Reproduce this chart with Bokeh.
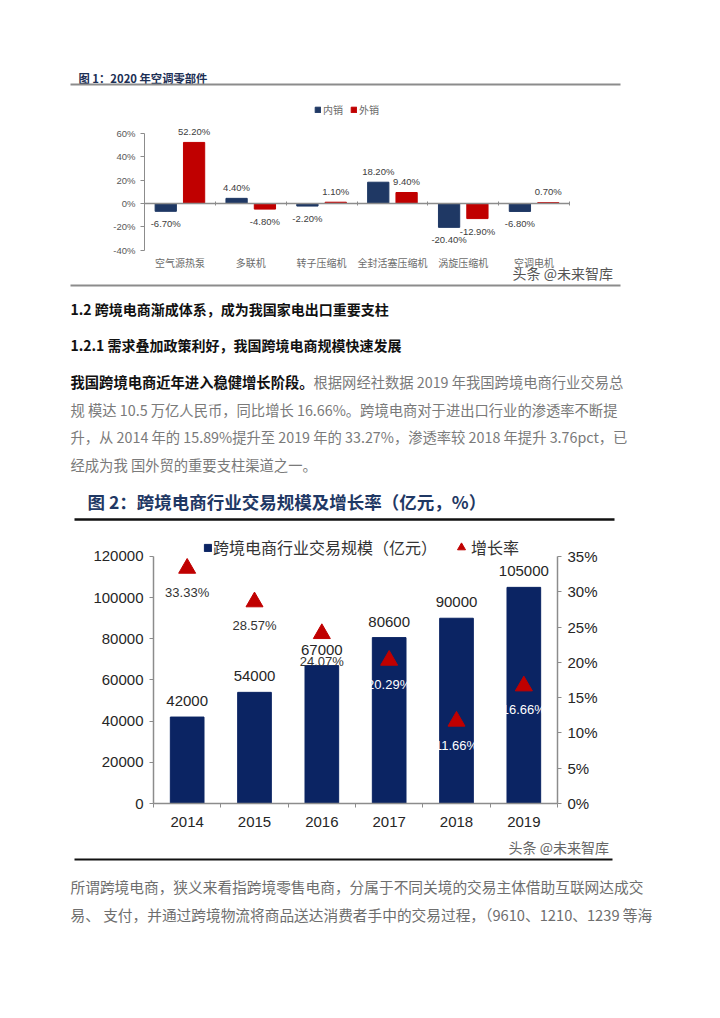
from bokeh.plotting import figure
from bokeh.layouts import column
from bokeh.models import (Range1d, FixedTicker, CustomJSTickFormatter, Legend,
                          LegendItem, LinearAxis, NumeralTickFormatter)
from bokeh.core.properties import value
from bokeh.embed import file_html
from bokeh.resources import INLINE
import numpy as np

# ---------------- data ----------------
c1_title = "图 1：2020 年空调零部件"
c1_categories = ["空气源热泵", "多联机", "转子压缩机", "全封活塞压缩机", "涡旋压缩机", "空调电机"]
c1_domestic = [-6.7, 4.4, -2.2, 18.2, -20.4, -6.8]
c1_export = [52.2, -4.8, 1.1, 9.4, -12.9, 0.7]
c1_series = ["内销", "外销"]
c1_yticks = [-40, -20, 0, 20, 40, 60]

c2_title = "图 2：跨境电商行业交易规模及增长率（亿元，%）"
c2_years = ["2014", "2015", "2016", "2017", "2018", "2019"]
c2_scale = [42000, 54000, 67000, 80600, 90000, 105000]
c2_growth = [33.33, 28.57, 24.07, 20.29, 11.66, 16.66]
c2_series = ["跨境电商行业交易规模（亿元）", "增长率"]
c2_left_ticks = [0, 20000, 40000, 60000, 80000, 100000, 120000]
c2_right_ticks = [0, 5, 10, 15, 20, 25, 30, 35]

watermark = "头条 @未来智库"
heading_1 = "1.2 跨境电商渐成体系，成为我国家电出口重要支柱"
heading_2 = "1.2.1 需求叠加政策利好，我国跨境电商规模快速发展"
para_lead = "我国跨境电商近年进入稳健增长阶段。"
para_lines = ["根据网经社数据 2019 年我国跨境电商行业交易总",
              "规 模达 10.5 万亿人民币，同比增长 16.66%。跨境电商对于进出口行业的渗透率不断提",
              "升，从 2014 年的 15.89%提升至 2019 年的 33.27%，渗透率较 2018 年提升 3.76pct，已",
              "经成为我 国外贸的重要支柱渠道之一。"]
tail_lines = ["所谓跨境电商，狭义来看指跨境零售电商，分属于不同关境的交易主体借助互联网达成交",
              "易、 支付，并通过跨境物流将商品送达消费者手中的交易过程，（9610、1210、1239 等海"]

# ---------------- styles / layout ----------------
W = 704
CJK = value("Noto Sans CJK SC")
SANS = value("Liberation Sans")
NAVY1 = "#1f3864"
NAVY2 = "#0b2463"
RED = "#c00000"
GREY = "#8c8c8c"


def unalign(p):
    if "frame_align" in p.properties():
        p.frame_align = False
    return p


def text_panel(top, bottom):
    p = figure(width=W, height=bottom - top, x_range=Range1d(0, W),
               y_range=Range1d(bottom, top), output_backend="svg", toolbar_location=None,
               min_border=0, x_axis_location=None, y_axis_location=None, title=None)
    p.outline_line_color = None
    p.xgrid.grid_line_color = None
    p.ygrid.grid_line_color = None
    p.background_fill_color = "white"
    return unalign(p)


# ---------------- segment 1: title of chart 1 ----------------
s1 = text_panel(0, 92)
s1.text(x=[78], y=[77], text=[c1_title], text_font=CJK, text_font_size="11.3px",
        text_font_style="bold", text_color="#1c2f55", text_baseline="middle")
s1.segment(x0=[70], y0=[84], x1=[620], y1=[84], line_color=GREY, line_width=2)

# ---------------- segment 2: chart 1 ----------------
n1 = len(c1_categories)
xc1 = np.arange(n1) + 0.5
P1_TOP, P1_BOT = 92, 283            # page pixels of this figure
F1_LEFT, F1_RIGHT = 144, 620        # page pixels of its frame
CAT_PX = 425 / n1                   # width of one category in pixels
Y0_PX, PCT_PX = 203, 1.17           # page y of 0 %, pixels per 1 %


def c1_y(py):
    return (Y0_PX - py) / PCT_PX


def c1_x(px):
    return (px - F1_LEFT) / CAT_PX


p1 = figure(width=W, height=P1_BOT - P1_TOP,
            x_range=Range1d(0, c1_x(F1_RIGHT)), y_range=Range1d(c1_y(P1_BOT), c1_y(P1_TOP)),
            output_backend="svg", toolbar_location=None, title=None,
            min_border_left=F1_LEFT, min_border_right=W - F1_RIGHT,
            min_border_top=0, min_border_bottom=0)
unalign(p1)
p1.outline_line_color = None
p1.grid.grid_line_color = None

r_dom = p1.vbar(x=xc1 - 0.2, top=c1_domestic, bottom=0, width=0.3, color=NAVY1)
r_exp = p1.vbar(x=xc1 + 0.2, top=c1_export, bottom=0, width=0.3, color=RED)

for xs, vals in ((xc1 - 0.2, c1_domestic), (xc1 + 0.2, c1_export)):
    offs = [-11 if v >= 0 else 12.5 for v in vals]
    p1.text(x=xs, y=vals, text=[f"{v:.2f}%" for v in vals], y_offset=offs,
            text_font=SANS, text_font_size="9.5px", text_color="#404040",
            text_align="center", text_baseline="middle")

# zero line with ticks between categories
xa = p1.xaxis[0]
xa.fixed_location = 0
xa.bounds = (0, n1)
xa.ticker = FixedTicker(ticks=[], minor_ticks=list(range(1, n1 + 1)))
xa.axis_line_color = GREY
xa.axis_line_width = 1.3
xa.major_tick_line_color = None
xa.minor_tick_line_color = GREY
xa.minor_tick_in = 2
xa.minor_tick_out = 2
xa.major_label_text_font_size = "0px"

# category labels along the bottom of the value axis
xl = LinearAxis(fixed_location=-40, ticker=FixedTicker(ticks=list(xc1)),
                formatter=CustomJSTickFormatter(args=dict(labels=c1_categories),
                                                code="return labels[Math.round(tick - 0.5)] || '';"))
xl.axis_line_color = None
xl.major_tick_line_color = None
xl.minor_tick_line_color = None
xl.major_tick_out = 0
xl.major_tick_in = 0
xl.major_label_standoff = 5
xl.major_label_text_font = "Noto Sans CJK SC"
xl.major_label_text_font_size = "10px"
xl.major_label_text_color = "#6b6b6b"
p1.add_layout(xl, "below")

ya = p1.yaxis[0]
ya.ticker = FixedTicker(ticks=c1_yticks)
ya.formatter = CustomJSTickFormatter(code="return tick + '%';")
ya.bounds = (-40, 60)
ya.axis_line_color = GREY
ya.major_tick_line_color = GREY
ya.major_tick_out = 4
ya.major_tick_in = 0
ya.minor_tick_line_color = None
ya.major_label_standoff = 5
ya.major_label_text_font = "Liberation Sans"
ya.major_label_text_font_size = "9.5px"
ya.major_label_text_color = "#595959"

leg1 = Legend(items=[LegendItem(label=c1_series[0], renderers=[r_dom]),
                     LegendItem(label=c1_series[1], renderers=[r_exp])],
              orientation="horizontal", location=(170, P1_BOT - 117), glyph_width=7,
              glyph_height=7, label_height=12, label_standoff=2, spacing=7, padding=0,
              margin=0, label_text_font="Noto Sans CJK SC", label_text_font_size="10px",
              label_text_color="#6b6b6b", background_fill_alpha=0, border_line_alpha=0)
p1.add_layout(leg1)
p1.text(x=[c1_x(512)], y=[c1_y(272)], text=[watermark], text_font=CJK,
        text_font_size="14px", text_color="#555555", text_baseline="middle")

# ---------------- segment 3: text ----------------
s3 = text_panel(P1_BOT, 522)
s3.segment(x0=[70], y0=[285], x1=[620], y1=[285], line_color=GREY, line_width=2)
s3.text(x=[70, 70], y=[308, 344], text=[heading_1, heading_2], text_font=CJK,
        text_font_size="14px", text_font_style="bold", text_color="#111111",
        text_baseline="middle")
s3.text(x=[70], y=[381], text=[para_lead], text_font=CJK, text_font_size="14.3px",
        text_font_style="bold", text_color="#111111", text_baseline="middle")
s3.text(x=[313, 70, 70, 70], y=[381, 409, 436, 464], text=para_lines, text_font=CJK,
        text_font_size="14.3px", text_color="#7a7a7a", text_baseline="middle")
s3.text(x=[87], y=[501], text=[c2_title], text_font=CJK, text_font_size="17.5px",
        text_font_style="bold", text_color="#1f3864", text_baseline="middle")
s3.segment(x0=[74], y0=[519], x1=[614], y1=[519], line_color="#111111", line_width=2.5)

# ---------------- segment 4: chart 2 ----------------
n2 = len(c2_years)
xc2 = np.arange(n2) + 0.5
P2_TOP, P2_BOT = 522, 834
p2 = figure(width=W, height=P2_BOT - P2_TOP, x_range=Range1d(0, n2),
            y_range=Range1d(0, 130200), output_backend="svg", toolbar_location=None,
            title=None, min_border_left=153, min_border_right=W - 557,
            min_border_top=535 - P2_TOP, min_border_bottom=P2_BOT - 803)
unalign(p2)
p2.outline_line_color = None
p2.grid.grid_line_color = None
p2.extra_y_ranges = {"g": Range1d(0, 37.98)}

r_bar = p2.vbar(x=xc2, top=c2_scale, bottom=0, width=0.5, color=NAVY2)
p2.text(x=xc2, y=c2_scale, text=[str(v) for v in c2_scale], y_offset=-16,
        text_font=SANS, text_font_size="15px", text_color="#262626",
        text_align="center", text_baseline="middle")
r_tri = p2.scatter(x=xc2, y=c2_growth, marker="triangle", size=17, color=RED,
                   y_range_name="g")
glabel_colors = ["#333333"] * 3 + ["#ffffff"] * 3
glabel_offsets = [24, 24, 28, 24, 24, 24]
p2.text(x=xc2, y=c2_growth, text=[f"{v:.2f}%" for v in c2_growth], y_offset=glabel_offsets,
        y_range_name="g", text_font=SANS, text_font_size="13px", text_color=glabel_colors,
        text_align="center", text_baseline="middle")

xa2 = p2.xaxis[0]
xa2.ticker = FixedTicker(ticks=list(xc2), minor_ticks=list(range(n2 + 1)))
xa2.formatter = CustomJSTickFormatter(args=dict(labels=c2_years),
                                      code="return labels[Math.round(tick - 0.5)] || '';")
xa2.axis_line_color = GREY
xa2.axis_line_width = 1.5
xa2.major_tick_line_color = None
xa2.major_tick_out = 0
xa2.minor_tick_line_color = GREY
xa2.minor_tick_out = 4
xa2.minor_tick_in = 0
xa2.major_label_standoff = 9
xa2.major_label_text_font = "Liberation Sans"
xa2.major_label_text_font_size = "15px"
xa2.major_label_text_color = "#262626"

ya2 = p2.yaxis[0]
ya2.ticker = FixedTicker(ticks=c2_left_ticks)
ya2.formatter = NumeralTickFormatter(format="0")
ya2.bounds = (0, 120000)

yr2 = LinearAxis(y_range_name="g", ticker=FixedTicker(ticks=c2_right_ticks),
                 formatter=CustomJSTickFormatter(code="return tick + '%';"), bounds=(0, 35))
p2.add_layout(yr2, "right")
for ax in (ya2, yr2):
    ax.axis_line_color = GREY
    ax.axis_line_width = 1.5
    ax.major_tick_line_color = GREY
    ax.major_tick_out = 4
    ax.major_tick_in = 0
    ax.minor_tick_line_color = None
    ax.major_label_standoff = 6
    ax.major_label_text_font = "Liberation Sans"
    ax.major_label_text_font_size = "15px"
    ax.major_label_text_color = "#262626"

leg2a = Legend(items=[LegendItem(label=c2_series[0], renderers=[r_bar])],
               location=(50, 244), glyph_width=9, glyph_height=9, label_height=18,
               label_standoff=1, padding=0, margin=0,
               label_text_font="Noto Sans CJK SC", label_text_font_size="16px",
               label_text_color="#333333", background_fill_alpha=0, border_line_alpha=0)
leg2b = Legend(items=[LegendItem(label=c2_series[1], renderers=[r_tri])],
               location=(298, 244), glyph_width=20, glyph_height=20, label_height=18,
               label_standoff=0, padding=0, margin=0,
               label_text_font="Noto Sans CJK SC", label_text_font_size="16px",
               label_text_color="#333333", background_fill_alpha=0, border_line_alpha=0)
p2.add_layout(leg2a)
p2.add_layout(leg2b)

# ---------------- segment 5: text ----------------
s5 = text_panel(P2_BOT, 1000)
s5.text(x=[508], y=[846], text=[watermark], text_font=CJK, text_font_size="14px",
        text_color="#666666", text_baseline="middle")
s5.segment(x0=[74], y0=[859], x1=[612], y1=[859], line_color="#111111", line_width=2)
s5.text(x=[70, 70], y=[886, 914], text=tail_lines, text_font=CJK, text_font_size="14.7px",
        text_color="#6e6e6e", text_baseline="middle")

page = column(s1, p1, s3, p2, s5, spacing=0)
open("out.html", "w").write(file_html(page, INLINE))
